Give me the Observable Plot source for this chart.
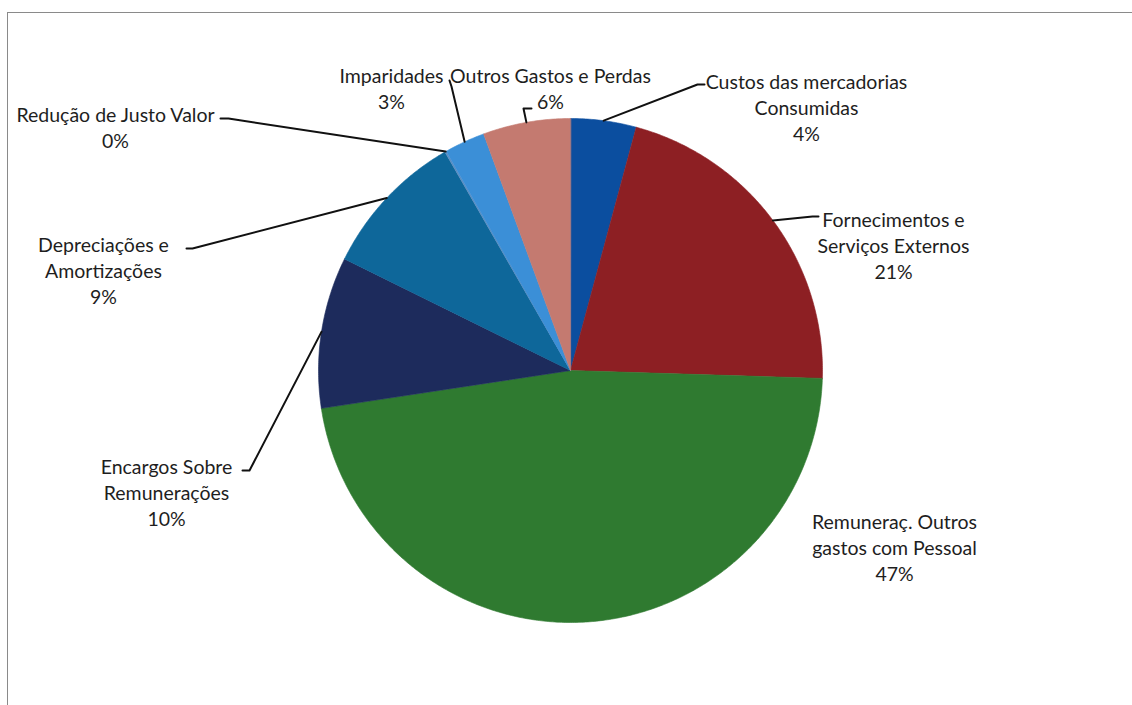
<!DOCTYPE html>
<html>
<head>
<meta charset="utf-8">
<script src="https://cdn.jsdelivr.net/npm/d3@7"></script>
<script src="https://cdn.jsdelivr.net/npm/@observablehq/plot@0.6"></script>
<style>
  html, body { margin: 0; padding: 0; background: #fff; }
  #wrap { position: relative; width: 1132px; height: 705px; overflow: hidden; }
  #frame { position: absolute; left: 7px; top: 12px; width: 1140px; height: 710px;
           border-left: 1.5px solid #8a8a8a; border-top: 1.5px solid #8a8a8a; pointer-events: none; }
</style>
</head>
<body>
<div id="wrap"><div id="frame"></div></div>
<script>
// ---- data ----
const categories = [
  "Custos das mercadorias Consumidas",
  "Fornecimentos e Serviços Externos",
  "Remuneraç. Outros gastos com Pessoal",
  "Encargos Sobre Remunerações",
  "Depreciações e Amortizações",
  "Redução de Justo Valor",
  "Imparidades",
  "Outros Gastos e Perdas"
];
const shares = [4.2, 21.3, 47.1, 9.7, 9.4, 0.1, 2.6, 5.6];
const labelLines = [
  "Custos das mercadorias\nConsumidas",
  "Fornecimentos e\nServiços Externos",
  "Remuneraç. Outros\ngastos com Pessoal",
  "Encargos Sobre\nRemunerações",
  "Depreciações e\nAmortizações",
  "Redução de Justo Valor",
  "Imparidades",
  "Outros Gastos e Perdas"
];
const colors = ["#0b4e9f", "#8d1f23", "#2f7a30", "#1d2b5c", "#0e679a", "#5d8fc4", "#3b8fd7", "#c47a70"];

// ---- layout (pixels) ----
const W = 1132, H = 705;
const cx = 570, cy = 370, R = 252;
const labelAt = [[806, 106], [893, 244], [894, 546], [166, 491], [103, 269], [115, 126], [391, 87], [550, 87]];
const leaderVia = [
  [[697, 84], [704, 84]],
  [[812, 216], [818, 216]],
  null,
  [[249, 470], [242, 470]],
  [[192, 248], [186, 248]],
  [[228, 118], [220, 118]],
  [[451, 86], [449, 80]],
  [[523, 108], [531, 108]]
];

// ---- geometry from data ----
const arcs = d3.pie().sort(null).value(d => d)(shares);
const pt = (a, r) => ({x: cx + r * Math.sin(a), y: cy - r * Math.cos(a)});
const slicePts = [];
arcs.forEach((a, i) => {
  const name = categories[i];
  slicePts.push({name, ...pt(0, 0)});
  const n = Math.max(2, Math.ceil((a.endAngle - a.startAngle) / (Math.PI / 360)));
  for (let k = 0; k <= n; k++) {
    const t = a.startAngle + (a.endAngle - a.startAngle) * k / n;
    slicePts.push({name, ...pt(t, R)});
  }
});
const leaderPts = [];
arcs.forEach((a, i) => {
  if (!leaderVia[i]) return;
  const m = (a.startAngle + a.endAngle) / 2;
  leaderPts.push({name: categories[i], ...pt(m, R)});
  leaderVia[i].forEach(([x, y]) => leaderPts.push({name: categories[i], x, y}));
});
const labels = categories.map((c, i) => ({
  name: c,
  x: labelAt[i][0], y: labelAt[i][1],
  text: labelLines[i] + "\n" + Math.round(shares[i]) + "%"
}));

const chart = Plot.plot({
  width: W, height: H,
  margin: 0,
  x: {domain: [0, W], range: [0, W], axis: null},
  y: {domain: [0, H], range: [0, H], axis: null},
  color: {domain: categories, range: colors},
  style: {fontFamily: "Lato, 'Open Sans', sans-serif", background: "transparent"},
  marks: [
    Plot.line(slicePts, {x: "x", y: "y", z: "name", fill: "name", stroke: "name",
                         strokeWidth: 0.6, curve: "linear-closed"}),
    Plot.line(leaderPts, {x: "x", y: "y", z: "name", stroke: "#111", strokeWidth: 2}),
    Plot.text(labels, {x: "x", y: "y", text: "text", fontSize: 19.5, lineHeight: 1.35,
                       fill: "#1e1e1e", textAnchor: "middle", lineAnchor: "middle"})
  ]
});
document.getElementById("wrap").prepend(chart);
</script>
</body>
</html>
